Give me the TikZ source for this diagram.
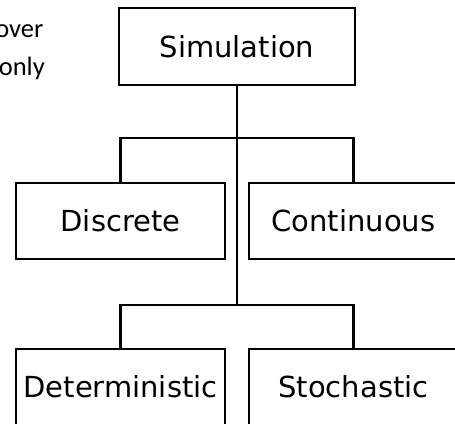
\documentclass[tikz,border=0pt]{standalone}
\usepackage{fontspec}
\setmainfont{DejaVu Sans}
\newfontfamily\notefont{Carlito}
\begin{document}
\begin{tikzpicture}[x=1pt,y=-1pt,
  box/.style={draw=black, line width=2.8pt, fill=white, inner sep=0pt,
    minimum width=209pt, minimum height=76pt,
    font=\fontsize{29}{34}\selectfont},
  link/.style={draw=black, line width=2.8pt},
  note/.style={anchor=base east, inner sep=0pt, font=\notefont\fontsize{26.5}{30}\selectfont}]
  \useasboundingbox (0,0) rectangle (455,423);

  % margin text at the top left
  \node[note] (n1) at (43.5,37) {over};
  \node[note] (n2) at (45,75) {only};

  % tree nodes
  \node[box, minimum width=236pt, minimum height=77pt] (sim) at (237,46.5) {Simulation};
  \node[box] (dis) at (120.5,221) {Discrete};
  \node[box] (con) at (353.5,221) {Continuous};
  \node[box] (det) at (120.5,387) {Deterministic};
  \node[box] (sto) at (353.5,387) {Stochastic};

  % branching points on the trunk
  \coordinate (b1) at (237,138);
  \coordinate (b2) at (237,305);

  % connectors
  \draw[link] (sim.south) -- (b2);
  \draw[link] (dis.north) |- (b1) -| (con.north);
  \draw[link] (det.north) |- (b2) -| (sto.north);
\end{tikzpicture}
\end{document}
